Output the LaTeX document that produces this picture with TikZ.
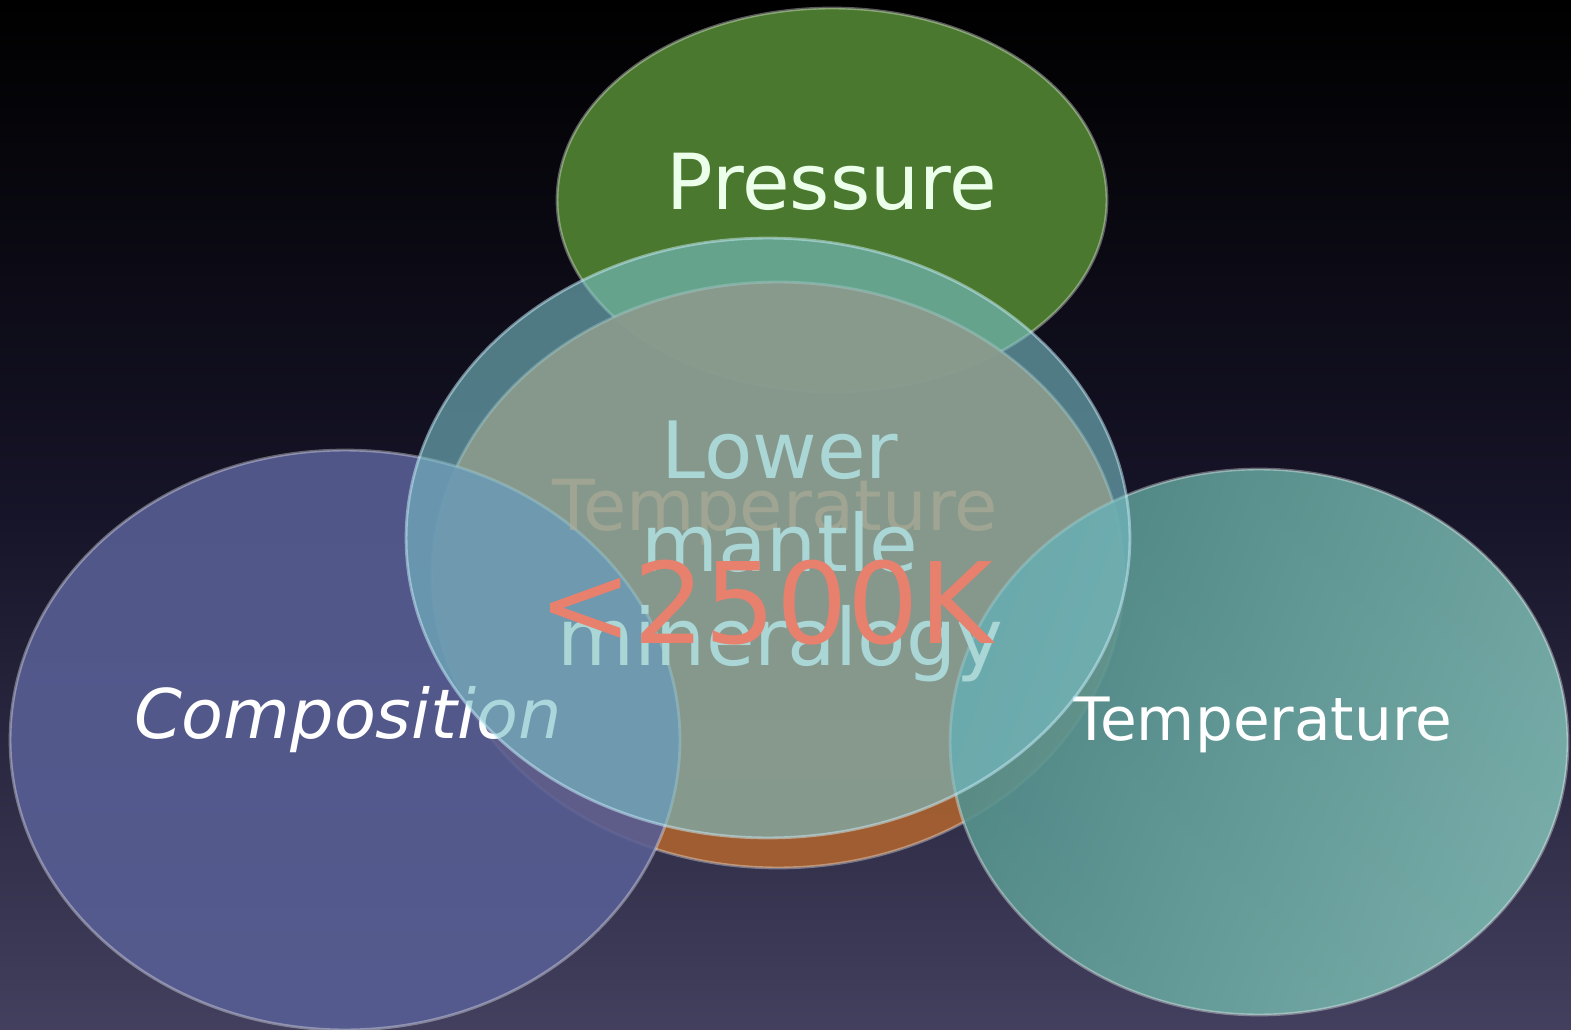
\documentclass[tikz,border=0pt]{standalone}
\usepackage{fontspec}
\setmainfont{DejaVu Sans}
\usetikzlibrary{shapes.geometric,positioning}
\definecolor{bgmid}{RGB}{22,20,40}
\definecolor{bgbot}{RGB}{66,64,94}
\definecolor{pgreen}{RGB}{74,120,46}
\definecolor{lteal}{RGB}{120,190,198}
\definecolor{lorange}{RGB}{165,96,48}
\definecolor{cblue}{RGB}{88,94,148}
\definecolor{tteal}{RGB}{82,142,138}
\definecolor{ttlight}{RGB}{124,182,176}
\definecolor{mintxt}{RGB}{170,214,214}
\definecolor{salmon}{RGB}{232,128,110}
\definecolor{khaki}{RGB}{176,174,150}

\begin{document}
\begin{tikzpicture}[x=0.02cm,y=-0.02cm,
  disc/.style={ellipse,inner sep=0pt,outer sep=0pt,line width=1.6pt,draw=white,draw opacity=0.35},
  word/.style={anchor=base,inner sep=0pt,text=white}]
\useasboundingbox (0,0) rectangle (1571,1030);
\fill[top color=black,bottom color=bgbot,middle color=bgmid] (0,0) rectangle (1571,1030);
  \node[disc,fill=pgreen,minimum width=11cm,minimum height=7.68cm]       (pres) at (832,200) {};
  \node[disc,fill=lorange,fill opacity=0.95,minimum width=13.84cm,minimum height=11.72cm] (hot)  at (778,575) {};
  \node[disc,fill=cblue,fill opacity=0.9,minimum width=13.4cm,minimum height=11.6cm]      (comp) at (345,740) {};
  \node[disc,left color=tteal,right color=ttlight,shading angle=70,fill opacity=0.92,
        minimum width=12.36cm,minimum height=10.92cm]                                    (temp) at (1259,742) {};
\tikzset{every node/.style={word}}
  \node[font=\fontsize{39}{45}\selectfont\itshape] (comptxt) at (348,738) {Composition};
  \node[font=\fontsize{34}{40}\selectfont]         (temptxt) at (1263,740) {Temperature};
\tikzset{every node/.style={}}
  \node[disc,fill=lteal,fill opacity=0.62,draw=cyan!20!white,draw opacity=0.5,
        minimum width=14.48cm,minimum height=12cm]                                      (lm)   at (768,538) {};
\tikzset{every node/.style={word}}
  \node[font=\fontsize{44}{50}\selectfont,text=white!92!green] (prestxt) at (832,210) {Pressure};
  \node[font=\fontsize{40}{46}\selectfont,text=khaki,text opacity=0.6] (hottxt) at (775,530) {Temperature};
  \node[font=\fontsize{45}{53}\selectfont,text=mintxt,align=center]    (lmtxt)  at (780,665) {Lower\\mantle\\mineralogy};
  \node[font=\fontsize{64}{70}\selectfont,text=salmon]                 (kelvin) at (766,643) {<2500K};
\end{tikzpicture}
\end{document}
